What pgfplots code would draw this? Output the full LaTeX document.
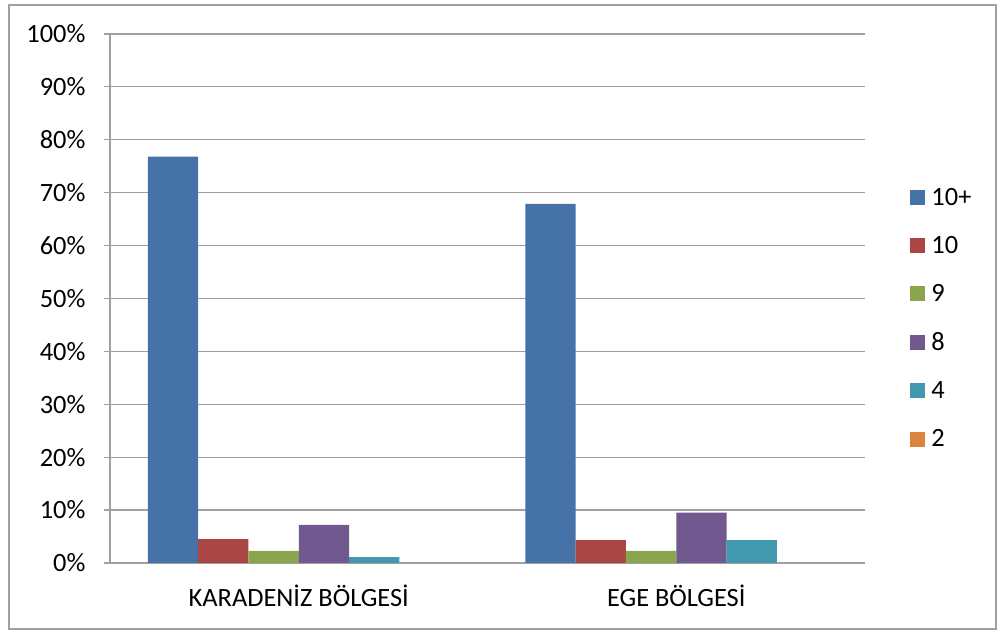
\documentclass[border=0pt]{standalone}
\usepackage{pgfplots}
\pgfplotsset{compat=1.18}
\usepackage{fontspec}
\setmainfont{Carlito}
\definecolor{c1}{HTML}{4572A7}
\definecolor{c2}{HTML}{AA4643}
\definecolor{c3}{HTML}{89A54E}
\definecolor{c4}{HTML}{71588F}
\definecolor{c5}{HTML}{4198AF}
\definecolor{c6}{HTML}{DB843D}
\definecolor{gl}{HTML}{A0A0A0}
\begin{document}
\begin{tikzpicture}[x=1bp,y=1bp]
\useasboundingbox (0,0) rectangle (997,630);
\fill[white] (0,0) rectangle (997,630);
\draw[gl, line width=1.2bp] (9,1) rectangle (996,625);
\begin{axis}[
  at={(110bp,67bp)}, anchor=south west,
  scale only axis, width=755bp, height=529bp,
  xmin=-0.5, xmax=1.5, ymin=0, ymax=100,
  ybar=0pt, bar width=50.3bp,
  axis x line*=bottom, axis y line*=left,
  axis line style={gl, line width=1.2bp},
  xtick={0,1}, xticklabels={KARADENİZ BÖLGESİ, EGE BÖLGESİ},
  x tick style={draw=none},
  extra x ticks={-0.5,0.5,1.5}, extra x tick labels={},
  extra x tick style={major tick length=8bp, tick style={gl, line width=1.2bp}, grid=none},
  ytick={0,10,...,100},
  yticklabels={0\%,10\%,20\%,30\%,40\%,50\%,60\%,70\%,80\%,90\%,100\%},
  tick align=outside, major tick length=6bp,
  y tick style={gl, line width=1.2bp},
  ymajorgrids, grid style={gl, line width=1.2bp},
  /pgf/number format/assume math mode=true,
  tick label style={font=\fontsize{26.5}{30}\selectfont, text=black},
  yticklabel style={xshift=-15bp},
  xticklabel style={yshift=-12bp},
  legend style={draw=none, fill=none, at={(1.056,0.716)}, anchor=north west,
    font=\fontsize{26.5}{30}\selectfont, row sep=25.5bp,
    legend cell align=left},
  legend image code/.code={\fill[#1] (0bp,-7.5bp) rectangle (15bp,7.5bp); \path (19bp,0bp);},
]
\addplot[fill=c1, draw=none] coordinates {(0,76.8) (1,67.9)};
\addplot[fill=c2, draw=none] coordinates {(0,4.5) (1,4.3)};
\addplot[fill=c3, draw=none] coordinates {(0,2.3) (1,2.3)};
\addplot[fill=c4, draw=none] coordinates {(0,7.2) (1,9.5)};
\addplot[fill=c5, draw=none] coordinates {(0,1.1) (1,4.3)};
\addplot[fill=none, draw=none,
  legend image code/.code={\fill[c6] (0bp,-7.5bp) rectangle (15bp,7.5bp); \path (19bp,0bp);}]
  coordinates {(0,0) (1,0)};
\legend{10+,10,9,8,4,2}
\end{axis}
\end{tikzpicture}
\end{document}
